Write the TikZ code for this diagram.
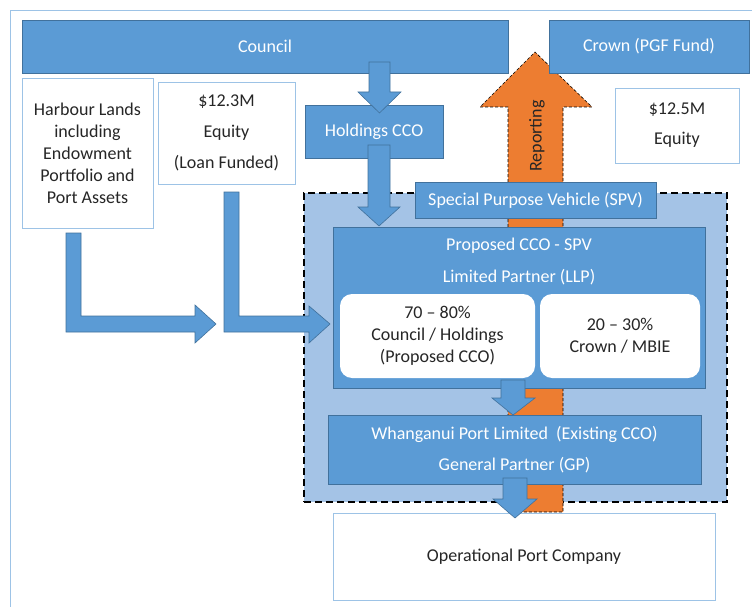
\documentclass[tikz,border=0pt]{standalone}
\usepackage{fontspec}
\setmainfont{Carlito}
\definecolor{boxblue}{HTML}{5B9BD5}
\definecolor{boxedge}{HTML}{41719C}
\definecolor{lineblue}{HTML}{9DC3E6}
\definecolor{spvfill}{HTML}{A4C3E6}
\definecolor{reportorange}{HTML}{ED7D31}
\definecolor{inkgrey}{HTML}{262626}
\tikzset{
    bluebox/.style={rectangle, fill=boxblue, draw=boxedge, line width=0.6pt, text=white},
    whitebox/.style={rectangle, fill=white, draw=lineblue, line width=0.9pt, text=inkgrey},
    sharebox/.style={rectangle, rounded corners=12pt, fill=white, text=inkgrey},
    blockarrow/.style={fill=boxblue, draw=boxedge, line width=0.6pt}
}
\begin{document}
\begin{tikzpicture}[x=1pt, y=-1pt]
    \useasboundingbox (0,0) rectangle (752,607);
    \draw[lineblue, line width=0.8pt] (10,607) -- (10,10) -- (752,10);

    \begin{scope}[every node/.style={font=\fontsize{18}{22}\selectfont, inner sep=0pt, align=center}]
        \node[fill=spvfill, draw=black, line width=1.8pt, dash pattern=on 7pt off 4pt, minimum width=423pt, minimum height=309pt] (spv) at (515.5,347.5) {};
        \draw[fill=reportorange, draw=black, densely dashed, line width=0.6pt] (508,512) -- (508,107) -- (480,107) -- (535,52) -- (592,107) -- (563,107) -- (563,512) -- cycle;
        \node[rotate=90, text=inkgrey] (report) at (537,136) {Reporting};

        \node[bluebox, minimum width=486pt, minimum height=53pt] (council) at (265,46.5) {Council};
        \node[bluebox, minimum width=200pt, minimum height=53pt] (crown) at (649,46.5) {Crown (PGF Fund)};
        \node[whitebox, minimum width=131pt, minimum height=150pt] (harbour) at (87.5,153) {Harbour Lands\\including\\Endowment\\Portfolio and\\Port Assets};
        \node[whitebox, minimum width=137pt, minimum height=102pt] (loan) at (226.5,133) {\$12.3M\\[9pt]Equity\\[9pt](Loan Funded)};
        \node[bluebox, minimum width=138pt, minimum height=53pt] (holdings) at (374,131.5) {Holdings CCO};
        \node[whitebox, minimum width=124pt, minimum height=75pt] (grant) at (677,125.5) {\$12.5M\\[8pt]Equity};
        \node[bluebox, minimum width=241pt, minimum height=36pt] (spvlabel) at (535.5,200) {Special Purpose Vehicle (SPV)};

        \node[bluebox, minimum width=372pt, minimum height=161pt] (llp) at (519,307.5) {};
        \node[text=white] (llptext) at (519,261) {Proposed CCO - SPV\\[10pt]Limited Partner (LLP)};
        \node[sharebox, minimum width=195pt, minimum height=84pt] (council share) at (437.5,336) {70 – 80\%\\Council / Holdings\\(Proposed CCO)};
        \node[sharebox, minimum width=160pt, minimum height=84pt] (crown share) at (620,336) {20 – 30\%\\Crown / MBIE};

        \node[bluebox, minimum width=373pt, minimum height=69pt] (wpl) at (514.5,449.5) {Whanganui Port Limited\ \ (Existing CCO)\\[9pt]General Partner (GP)};
        \node[whitebox, minimum width=382pt, minimum height=87pt] (opco) at (524,556.5) {Operational Port Company};
    \end{scope}

    \begin{scope}[every path/.style={blockarrow}]
        \path (369,62) -- (390,62) -- (390,92) -- (401,92) -- (379.5,113) -- (358,92) -- (369,92) -- cycle;
        \path (368,145) -- (390,145) -- (390,207) -- (400,207) -- (379,226) -- (358,207) -- (368,207) -- cycle;
        \path (501,380) -- (525,380) -- (525,398) -- (535,398) -- (513,415) -- (492,398) -- (501,398) -- cycle;
        \path (503,478) -- (527,478) -- (527,499) -- (537,499) -- (515,518) -- (493,499) -- (503,499) -- cycle;
        \path (66,233) -- (81,233) -- (81,316) -- (195,316) -- (195,305) -- (216,324) -- (195,343) -- (195,332) -- (66,332) -- cycle;
        \path (224,192) -- (239,192) -- (239,316) -- (309,316) -- (309,306) -- (330,324) -- (309,343) -- (309,332) -- (224,332) -- cycle;
    \end{scope}
\end{tikzpicture}
\end{document}
